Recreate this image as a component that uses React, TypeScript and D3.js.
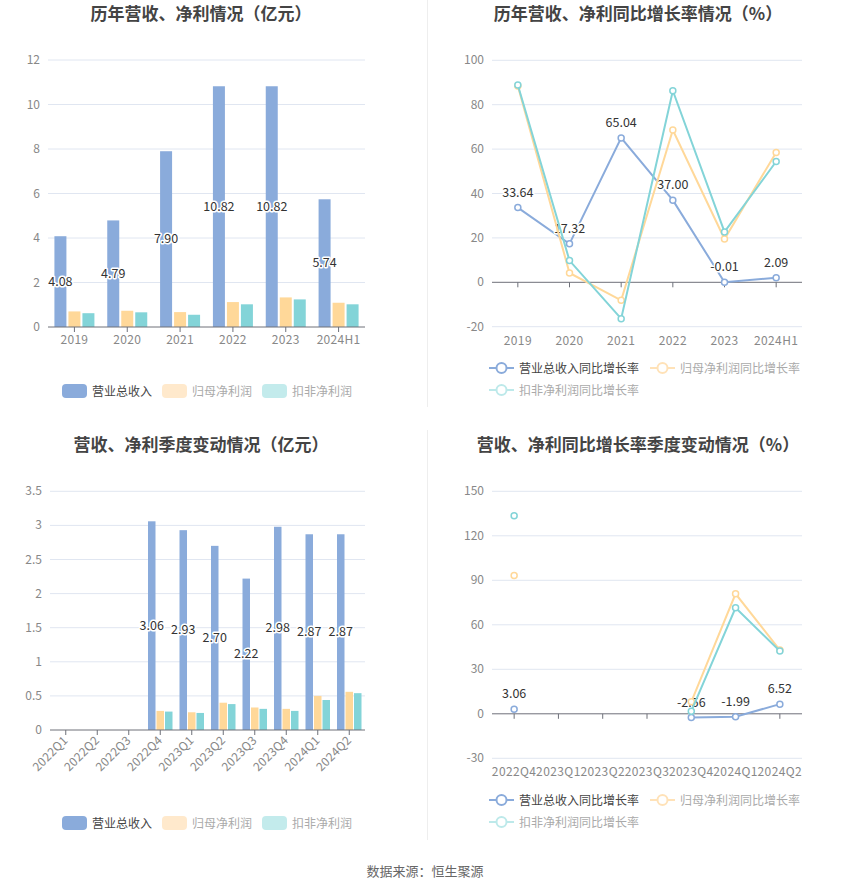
import * as d3 from 'd3';

const FONT = '"Noto Sans CJK SC", "Noto Sans", sans-serif';

// 历年数据
const years = ['2019', '2020', '2021', '2022', '2023', '2024H1'];
const yearRevenue = [4.08, 4.79, 7.9, 10.82, 10.82, 5.74];
const yearNetProfit = [0.7, 0.73, 0.67, 1.12, 1.33, 1.09];
const yearDeducted = [0.62, 0.66, 0.55, 1.02, 1.24, 1.02];
const yearTicks = [0, 2, 4, 6, 8, 10, 12];

const yearRevenueGrowth = [33.64, 17.32, 65.04, 37.0, -0.01, 2.09];
const yearNetProfitGrowth = [88.4, 4.2, -8.1, 68.6, 19.5, 58.5];
const yearDeductedGrowth = [88.9, 9.8, -16.4, 86.3, 22.7, 54.4];
const yearGrowthTicks = [-20, 0, 20, 40, 60, 80, 100];

// 季度数据
const quarters = ['2022Q1', '2022Q2', '2022Q3', '2022Q4', '2023Q1', '2023Q2', '2023Q3', '2023Q4', '2024Q1', '2024Q2'];
const qRevenue = [null, null, null, 3.06, 2.93, 2.7, 2.22, 2.98, 2.87, 2.87];
const qNetProfit = [null, null, null, 0.28, 0.26, 0.4, 0.33, 0.31, 0.5, 0.56];
const qDeducted = [null, null, null, 0.27, 0.25, 0.38, 0.31, 0.28, 0.44, 0.54];
const qTicks = [0, 0.5, 1, 1.5, 2, 2.5, 3, 3.5];

const growthQuarters = ['2022Q4', '2023Q1', '2023Q2', '2023Q3', '2023Q4', '2024Q1', '2024Q2'];
const qRevenueGrowth = [3.06, null, null, null, -2.56, -1.99, 6.52];
const qNetProfitGrowth = [93.3, null, null, null, 8.1, 80.9, 43.0];
const qDeductedGrowth = [133.5, null, null, null, 1.8, 71.5, 42.3];
const qGrowthTicks = [-30, 0, 30, 60, 90, 120, 150];

const BLUE = '#8aabdb';
const ORANGE = '#ffd899';
const CYAN = '#83d4d8';
const barNames = ['营业总收入', '归母净利润', '扣非净利润'];
const lineNames = ['营业总收入同比增长率', '归母净利润同比增长率', '扣非净利润同比增长率'];

type Num = number | null;

function fmt(v: number) {
  return v.toFixed(2);
}

function LabelText({ x, y, text }: { x: number; y: number; text: string }) {
  return (
    <text x={x} y={y} textAnchor="middle" fontSize={12.5} fill="#333" stroke="#fff" strokeWidth={3}
      paintOrder="stroke" strokeLinejoin="round">
      {text}
    </text>
  );
}

interface BarPanelProps {
  title: string;
  titleY: number;
  cats: string[];
  series: Num[][];
  ticks: number[];
  left: number;
  right: number;
  top: number;
  bottom: number;
  barW: number;
  gap: number;
  rotate: boolean;
  legendY: number;
}

function BarPanel(p: BarPanelProps) {
  const x = d3.scaleBand().domain(p.cats).range([p.left, p.right]);
  const y = d3.scaleLinear().domain([0, p.ticks[p.ticks.length - 1]]).range([p.bottom, p.top]);
  const colors = [BLUE, ORANGE, CYAN];
  const groupW = p.barW * 3 + p.gap * 2;
  const legendSw = ['#8aabdb', '#ffe9cc', '#c3ebec'];
  const legendTx = ['#444', '#aaa', '#aaa'];
  const legendX = [62, 162, 262];
  return (
    <g>
      <text x={201} y={p.titleY} textAnchor="middle" fontSize={17} fontWeight="bold" fill="#444">{p.title}</text>
      {p.ticks.map((t) => (
        <g key={t}>
          {t !== 0 && <line x1={p.left} x2={p.right} y1={y(t)} y2={y(t)} stroke="#e0e6f1" />}
          <text x={p.left - 8} y={y(t) + 4} textAnchor="end" fontSize={12} fill="#888">{String(t)}</text>
        </g>
      ))}
      {p.series.map((s, si) =>
        s.map((v, i) => {
          if (v == null) return null;
          const bx = x(p.cats[i])! + x.bandwidth() / 2 - groupW / 2 + si * (p.barW + p.gap);
          return <rect key={`${si}-${i}`} x={bx} y={y(v)} width={p.barW} height={y(0) - y(v)} fill={colors[si]} />;
        })
      )}
      <line x1={p.left} x2={p.right} y1={y(0)} y2={y(0)} stroke="#6e7079" />
      {p.cats.map((c) => {
        const cx = x(c)! + x.bandwidth() / 2;
        return (
          <g key={c}>
            <line x1={cx} x2={cx} y1={y(0)} y2={y(0) + 5} stroke="#6e7079" />
            {p.rotate ? (
              <text transform={`translate(${cx + 3},${y(0) + 11}) rotate(-45)`} textAnchor="end" fontSize={12}
                letterSpacing={0.3} fill="#888">{c}</text>
            ) : (
              <text x={cx} y={y(0) + 17} textAnchor="middle" fontSize={12} letterSpacing={0.3} fill="#888">{c}</text>
            )}
          </g>
        );
      })}
      {p.series[0].map((v, i) => {
        if (v == null) return null;
        const bx = x(p.cats[i])! + x.bandwidth() / 2 - groupW / 2 + p.barW / 2;
        return <LabelText key={i} x={bx} y={(y(v) + y(0)) / 2 + 4} text={fmt(v)} />;
      })}
      {barNames.map((n, i) => (
        <g key={n}>
          <rect x={legendX[i]} y={p.legendY - 7} width={25} height={14} rx={4} fill={legendSw[i]} />
          <text x={legendX[i] + 30} y={p.legendY + 4.5} fontSize={12} fill={legendTx[i]}>{n}</text>
        </g>
      ))}
    </g>
  );
}

interface LinePanelProps {
  title: string;
  titleY: number;
  cats: string[];
  series: Num[][];
  ticks: number[];
  left: number;
  right: number;
  top: number;
  bottom: number;
  legendY: number;
}

function LinePanel(p: LinePanelProps) {
  const x = d3.scaleBand().domain(p.cats).range([p.left, p.right]);
  const y = d3.scaleLinear().domain([p.ticks[0], p.ticks[p.ticks.length - 1]]).range([p.bottom, p.top]);
  const cx = (i: number) => x(p.cats[i])! + x.bandwidth() / 2;
  const colors = [BLUE, ORANGE, CYAN];
  const line = d3
    .line<Num>()
    .defined((d) => d != null)
    .x((_, i) => cx(i))
    .y((d) => y(d as number));
  const legendIcon = ['#8aabdb', '#ffe2b8', '#bde9ea'];
  const legendTx = ['#444', '#aaa', '#aaa'];
  const legendPos = [
    [489, p.legendY],
    [650, p.legendY],
    [489, p.legendY + 22],
  ];
  return (
    <g>
      <text x={638} y={p.titleY} textAnchor="middle" fontSize={17} fontWeight="bold" fill="#444">{p.title}</text>
      {p.ticks.map((t) => (
        <g key={t}>
          <line x1={p.left} x2={p.right} y1={y(t)} y2={y(t)} stroke={t === 0 ? '#6e7079' : '#e0e6f1'} />
          <text x={p.left - 8} y={y(t) + 4} textAnchor="end" fontSize={12} fill="#888">{String(t)}</text>
        </g>
      ))}
      {p.cats.map((c, i) => (
        <g key={c}>
          <line x1={cx(i)} x2={cx(i)} y1={y(0)} y2={y(0) + 5} stroke="#6e7079" />
          <text x={cx(i)} y={p.bottom + 18} textAnchor="middle" fontSize={12} letterSpacing={0.4} fill="#888">{c}</text>
        </g>
      ))}
      {p.series.map((s, si) => (
        <g key={si}>
          <path d={line(s) || ''} fill="none" stroke={colors[si]} strokeWidth={2} />
          {s.map((v, i) =>
            v == null ? null : (
              <circle key={i} cx={cx(i)} cy={y(v)} r={3} fill="#fff" stroke={colors[si]} strokeWidth={1.5} />
            )
          )}
          {si === 0 &&
            s.map((v, i) => (v == null ? null : <LabelText key={`l${i}`} x={cx(i)} y={y(v) - 11} text={fmt(v)} />))}
        </g>
      ))}
      {lineNames.map((n, i) => (
        <g key={n}>
          <line x1={legendPos[i][0]} x2={legendPos[i][0] + 25} y1={legendPos[i][1]} y2={legendPos[i][1]} stroke={legendIcon[i]} strokeWidth={2} />
          <circle cx={legendPos[i][0] + 12.5} cy={legendPos[i][1]} r={5} fill="#fff" stroke={legendIcon[i]} strokeWidth={2} />
          <text x={legendPos[i][0] + 30} y={legendPos[i][1] + 4.5} fontSize={12} fill={legendTx[i]}>{n}</text>
        </g>
      ))}
    </g>
  );
}

export default function App() {
  return (
    <div style={{ position: 'absolute', left: 0, top: 0, width: 850, height: 891, background: '#fff' }}>
      <svg width={850} height={891} style={{ display: 'block', fontFamily: FONT }}>
        <rect width={850} height={891} fill="#fff" />
        <line x1={427.5} x2={427.5} y1={0} y2={407} stroke="#eee" />
        <line x1={427.5} x2={427.5} y1={430} y2={840} stroke="#eee" />
        <BarPanel
          title="历年营收、净利情况（亿元）"
          titleY={20}
          cats={years}
          series={[yearRevenue, yearNetProfit, yearDeducted]}
          ticks={yearTicks}
          left={48}
          right={365}
          top={60}
          bottom={327}
          barW={12}
          gap={2}
          rotate={false}
          legendY={391}
        />
        <LinePanel
          title="历年营收、净利同比增长率情况（%）"
          titleY={20}
          cats={years}
          series={[yearRevenueGrowth, yearNetProfitGrowth, yearDeductedGrowth]}
          ticks={yearGrowthTicks}
          left={492}
          right={802}
          top={60.3}
          bottom={326.7}
          legendY={368}
        />
        <BarPanel
          title="营收、净利季度变动情况（亿元）"
          titleY={451}
          cats={quarters}
          series={[qRevenue, qNetProfit, qDeducted]}
          ticks={qTicks}
          left={50}
          right={365}
          top={491.3}
          bottom={730}
          barW={7.5}
          gap={1}
          rotate={true}
          legendY={823}
        />
        <LinePanel
          title="营收、净利同比增长率季度变动情况（%）"
          titleY={451}
          cats={growthQuarters}
          series={[qRevenueGrowth, qNetProfitGrowth, qDeductedGrowth]}
          ticks={qGrowthTicks}
          left={492}
          right={802}
          top={491.3}
          bottom={758.3}
          legendY={800}
        />
        <text x={425} y={876} textAnchor="middle" fontSize={13} fill="#666">数据来源：恒生聚源</text>
      </svg>
    </div>
  );
}
